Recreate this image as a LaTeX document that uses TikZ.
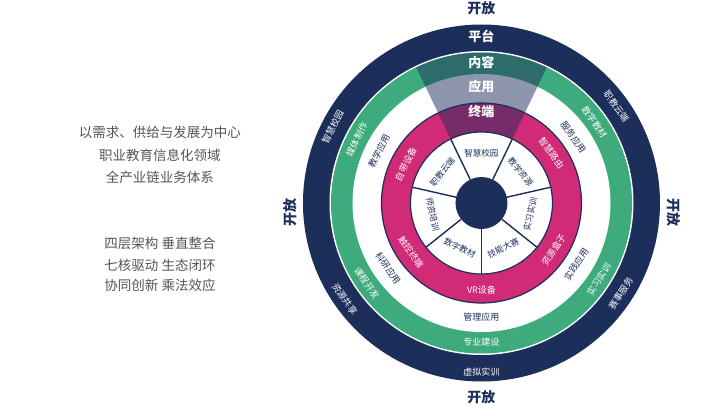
\documentclass[tikz,border=0pt]{standalone}
\usepackage{fontspec}
\setmainfont{Noto Sans CJK SC}
\definecolor{navy}{HTML}{1C2E5A}
\definecolor{grn}{HTML}{3DAB7C}
\definecolor{mag}{HTML}{D12A77}
\definecolor{txtgrey}{HTML}{555555}
\tikzset{
 ringlbl/.style={font=\fontsize{9}{10}\selectfont, inner sep=0pt},
 toplbl/.style={font=\bfseries\fontsize{13}{14}\selectfont, text=white, inner sep=0pt},
 seglbl/.style={font=\fontsize{8.5}{9}\selectfont, text=navy, inner sep=0pt},
 openlbl/.style={font=\bfseries\fontsize{14}{15}\selectfont, text=navy, inner sep=0pt},
 sidetxt/.style={font=\fontsize{13.5}{15}\selectfont, text=txtgrey, inner sep=0pt},
 spoke/.style={draw=navy, line width=1.4pt},
 ringedge/.style={draw=navy, line width=1.2pt},
}
\begin{document}
\begin{tikzpicture}[x=1pt,y=1pt]
\useasboundingbox (-481.5,-202) rectangle (238.5,203);
\fill[white] (-481.5,-202) rectangle (238.5,203);
% rings
\fill[navy] (0,0) circle (178.5pt);
\fill[white] (0,0) circle (152pt);
\fill[grn] (0,0) circle (150.5pt);
\fill[white] (0,0) circle (129pt);
\fill[mag] (0,0) circle (100pt);
\fill[white] (0,0) circle (71pt);
\draw[ringedge] (0,0) circle (100pt);
\draw[ringedge] (0,0) circle (71pt);
% spokes
\foreach \a in {64.29,12.86,-38.57,-90,-141.43,167.14,115.71}
  \draw[spoke] (\a:26pt) -- (\a:71pt);
\fill[navy] (0,0) circle (26pt);
% overlay wedge
\fill[navy, opacity=0.5] (64.29:150.5pt) arc[start angle=64.29, end angle=115.71, radius=150.5pt]
  -- (115.71:71pt) arc[start angle=115.71, end angle=64.29, radius=71pt] -- cycle;
% top labels
\node[toplbl] (pt) at (90:167pt) {平台};
\node[toplbl] (nr) at (90:141pt) {内容};
\node[toplbl] (yy) at (90:116pt) {应用};
\node[toplbl] (zd) at (90:91pt) {终端};
% ring labels
\foreach \t/\a/\r/\rot/\c [count=\i] in {
  职教云端/35.6/166/-54.4/white, 赛事服务/-33/166/57/white, 虚拟实训/-90/169/0/white,
  资源共享/215/167/-55/white, 智慧校园/153/167/63/white,
  数字教材/35.6/139/-54.4/white, 实习实训/-33/140/57/white, 专业建设/-90/139/0/white,
  课程开发/215/140/-55/white, 媒体制作/153/140/63/white,
  服务应用/35.6/113/-54.4/navy, 实践应用/-33/113/57/navy, 管理应用/-90/114/0/navy,
  科研应用/215/114/-55/navy, 教学应用/153/115/63/navy,
  智慧路由/35.6/86/-54.4/white, 资源盒子/-33/86/57/white, VR设备/-90/87/0/white,
  触控终端/215/86/-55/white, 自带设备/153/85/63/white}
  \node[ringlbl, text=\c, rotate=\rot] (R\i) at (\a:\r pt) {\t};
% segment labels
\foreach \t/\a/\rot [count=\i] in {
  智慧校园/90/0, 教学资源/38.57/-51.43, 实习实训/-12.86/77.14, 技能大赛/-64.29/25.71,
  数字教材/-115.71/-25.71, 师资培训/192.86/282.86, 职教云端/141.43/51.43}
  \node[seglbl, rotate=\rot] (S\i) at (\a:50pt) {\t};
% open labels
\node[openlbl] (o1) at (0,195) {开放};
\node[openlbl] (o2) at (0,-194) {开放};
\node[openlbl, rotate=90] (o3) at (-191.5,-9) {开放};
\node[openlbl, rotate=-90] (o4) at (192.5,-9) {开放};
% side text
\node[sidetxt] (t1) at (-321.5,71) {以需求、供给与发展为中心};
\node[sidetxt] (t2) at (-321.5,48) {职业教育信息化领域};
\node[sidetxt] (t3) at (-321.5,26) {全产业链业务体系};
\node[sidetxt] (t4) at (-321.5,-40) {四层架构 垂直整合};
\node[sidetxt] (t5) at (-321.5,-62) {七核驱动 生态闭环};
\node[sidetxt] (t6) at (-321.5,-82) {协同创新 乘法效应};
\end{tikzpicture}
\end{document}
